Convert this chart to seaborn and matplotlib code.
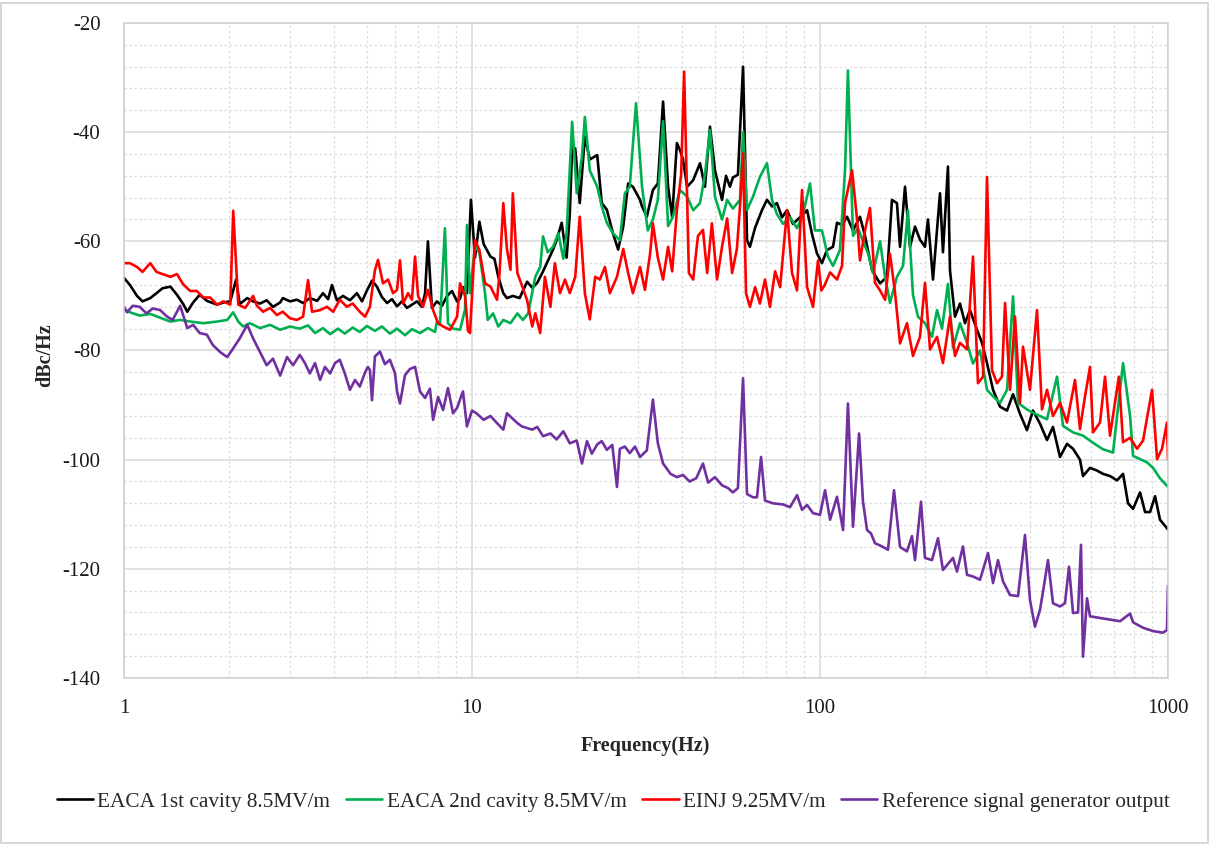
import matplotlib
matplotlib.use("Agg")
import matplotlib.pyplot as plt
from matplotlib.ticker import LogLocator, MultipleLocator, NullFormatter
from matplotlib.patches import Rectangle
import seaborn as sns

# ---- EACA 1st cavity 8.5MV/m ----
black_f = [1.00, 1.04, 1.09, 1.13, 1.19, 1.24, 1.29, 1.36, 1.42, 1.48, 1.52, 1.58, 1.65, 1.73, 1.85,
           1.93, 2.02, 2.10, 2.15, 2.26, 2.35, 2.46, 2.57, 2.68, 2.81, 2.86, 3.00, 3.14, 3.27, 3.42,
           3.59, 3.73, 3.86, 3.96, 4.09, 4.26, 4.46, 4.67, 4.83, 4.99, 5.16, 5.33, 5.51, 5.70, 5.89,
           6.09, 6.29, 6.50, 6.72, 6.95, 7.18, 7.33, 7.47, 7.67, 7.93, 8.20, 8.48, 8.76, 9.06, 9.24,
           9.42, 9.67, 9.93, 10.2, 10.5, 10.8, 11.3, 11.6, 11.9, 12.3, 12.6, 13.1, 13.7, 14.4, 14.9,
           15.4, 16.0, 16.4, 17.1, 17.5, 18.1, 18.7, 19.1, 19.4, 19.8, 20.4, 21.1, 21.8, 22.9, 23.6,
           24.4, 25.4, 26.3, 27.2, 28.1, 29.0, 30.4, 30.8, 31.8, 33.1, 34.2, 35.4, 36.6, 37.6, 38.8,
           39.6, 40.4, 41.5, 43.2, 45.2, 46.7, 48.3, 49.9, 52.3, 53.7, 55.1, 56.2, 58.1, 60.1, 61.7,
           62.9, 65.1, 68.1, 70.4, 72.8, 75.2, 77.8, 80.4, 83.6, 87.6, 91.8, 94.8, 98.0, 101.3, 104.7,
           109.0, 111.9, 115.7, 119.6, 124.4, 130.3, 134.7, 141.1, 148.8, 155.8, 161.0, 166.4, 169.8,
           175.5, 181.4, 187.5, 193.8, 200.3, 204.3, 211.2, 221.2, 225.6, 233.2, 236.3, 244.3, 252.5,
           261.0, 269.8, 282.6, 292.1, 301.9, 314.2, 329.1, 344.7, 358.7, 375.6, 393.3, 409.3, 428.7,
           449.1, 467.2, 489.4, 512.6, 533.4, 558.6, 569.8, 596.9, 625.2, 650.5, 681.4, 713.7, 742.7,
           767.7, 793.6, 831.2, 859.2, 888.0, 917.9, 948.4, 1000]
black_db = [-66.7, -68.0, -70.0, -71.0, -70.4, -69.5, -68.6, -68.3, -69.8, -71.5, -72.9, -71.2, -69.8, -70.9, -71.6,
            -71.2, -71.0, -67.0, -71.5, -70.4, -71.0, -71.4, -70.8, -72.0, -71.2, -70.4, -71.0, -70.7, -71.3, -70.4,
            -70.9, -69.5, -70.6, -68.0, -70.8, -70.0, -70.8, -69.5, -71.0, -69.0, -67.2, -68.3, -70.2, -71.3, -70.6,
            -71.9, -71.0, -72.2, -71.6, -71.0, -72.0, -69.5, -60.0, -72.2, -71.0, -71.8, -70.0, -69.1, -71.0, -70.5,
            -68.4, -69.5, -52.4, -63.0, -56.4, -60.5, -62.8, -63.2, -66.5, -69.5, -70.4, -70.0, -70.4, -67.4, -68.5,
            -67.6, -65.5, -64.0, -61.5, -59.8, -56.6, -63.0, -55.0, -42.7, -43.0, -53.0, -40.8, -45.0, -44.2, -53.0,
            -54.2, -58.5, -61.5, -57.3, -49.4, -50.0, -52.4, -53.6, -55.5, -50.6, -49.4, -34.4, -50.0, -55.5, -42.0,
            -43.3, -45.0, -50.0, -48.8, -45.7, -50.0, -39.0, -47.0, -52.4, -48.0, -50.0, -48.3, -47.8, -28.0, -59.8,
            -61.0, -57.5, -54.3, -52.4, -53.6, -53.0, -55.6, -54.3, -56.8, -55.6, -54.3, -58.6, -62.2, -64.0, -61.6,
            -61.0, -56.6, -57.0, -55.5, -58.0, -55.5, -59.0, -65.3, -67.7, -66.5, -52.4, -53.0, -61.0,
            -50.0, -61.0, -57.3, -59.7, -61.0, -56.0, -67.0, -51.2, -62.0, -46.3, -65.3, -73.8, -71.4,
            -75.0, -72.6, -76.2, -78.6, -82.3, -87.2, -90.3, -91.0, -88.0, -91.6, -94.6, -91.0, -93.4,
            -96.4, -94.0, -99.5, -97.1, -98.0, -100.0, -103.0, -101.5, -102.0, -102.6, -103.0, -103.8, -102.6,
            -108.0, -109.0, -106.0, -109.6, -109.6, -106.7, -111.0, -112.8]

# ---- EACA 2nd cavity 8.5MV/m ----
green_f = [1.00, 1.04, 1.11, 1.19, 1.27, 1.36, 1.45, 1.55, 1.69, 1.85, 1.98, 2.06, 2.13, 2.20, 2.30,
           2.46, 2.63, 2.81, 3.00, 3.20, 3.38, 3.54, 3.73, 3.91, 4.12, 4.31, 4.54, 4.76, 4.99, 5.26,
           5.51, 5.81, 6.09, 6.42, 6.72, 7.09, 7.47, 7.83, 7.93, 8.09, 8.36, 8.53, 8.82, 9.24, 9.55,
           9.67, 9.87, 10.2, 10.5, 10.9, 11.1, 11.5, 11.9, 12.3, 12.9, 13.5, 14.0, 14.5, 15.2, 15.7,
           16.0, 16.5, 17.1, 17.7, 18.3, 18.7, 19.4, 20.0, 20.7, 21.1, 21.8, 22.9, 23.6, 24.4, 25.4,
           26.6, 27.5, 28.4, 29.6, 30.8, 32.0, 33.1, 34.2, 35.4, 36.6, 37.8, 39.6, 41.5, 43.2, 45.2,
           46.7, 48.3, 49.9, 52.3, 54.1, 56.2, 58.9, 60.1, 61.7, 64.2, 67.2, 70.4, 72.8, 75.2, 78.3,
           82.0, 85.9, 89.4, 93.6, 96.7, 101.3, 105.4, 109.0, 114.1, 118.0, 120.3, 124.4, 128.6, 132.9,
           137.4, 142.0, 148.8, 153.8, 158.9, 166.4, 173.2, 179.0, 185.0, 191.2, 200.3, 209.8, 216.9,
           224.2, 233.2, 241.1, 252.5, 264.5, 275.2, 288.3, 301.9, 314.2, 329.1, 344.7, 358.7, 370.7,
           393.3, 409.3, 428.7, 449.1, 479.8, 499.2, 533.4, 569.8, 608.8, 650.5, 695.0, 742.7, 778.0,
           793.6, 831.2, 870.7, 905.8, 948.4, 1000]
green_db = [-72.5, -73.0, -73.6, -73.3, -74.0, -74.7, -74.4, -74.7, -75.0, -74.7, -74.4, -73.0, -74.7, -75.6, -75.0,
            -75.9, -75.3, -76.2, -75.6, -76.0, -75.4, -76.8, -75.9, -77.0, -76.0, -76.9, -75.8, -76.6, -75.5, -76.4,
            -75.6, -76.9, -76.0, -77.2, -76.1, -76.8, -75.9, -76.6, -74.7, -75.3, -57.6, -75.0, -76.0, -76.2, -72.5,
            -57.0, -69.5, -61.0, -62.0, -69.5, -74.4, -73.2, -75.6, -74.4, -75.0, -73.2, -74.4, -73.2, -66.5, -64.7,
            -59.1, -62.0, -61.0, -58.5, -63.2, -58.5, -38.1, -51.2, -44.5, -37.2, -47.0, -50.0, -53.6, -56.6, -58.5,
            -59.8, -51.2, -50.0, -34.7, -50.0, -58.0, -56.0, -52.4, -38.0, -57.2, -55.5, -50.6, -51.8, -54.3, -53.0,
            -47.8, -39.6, -51.8, -56.0, -52.4, -54.0, -52.4, -40.0, -54.3, -51.8, -48.2, -45.7, -52.4, -55.0, -56.8,
            -55.6, -57.6, -55.0, -49.4, -58.0, -58.0, -62.8, -64.5, -61.6, -47.0, -28.7, -59.0, -57.6, -60.0,
            -62.2, -65.8, -60.0, -66.5, -71.3, -66.5, -64.5, -54.3, -69.8, -73.8, -75.0, -77.5, -72.6,
            -76.0, -67.8, -79.5, -75.0, -78.6, -82.4, -80.0, -87.2, -88.4, -89.6, -87.2, -70.1, -89.6,
            -90.8, -91.4, -92.0, -92.6, -84.8, -93.8, -95.0, -95.6, -96.9, -98.1, -98.7, -82.3, -92.0,
            -99.3, -99.9, -100.5, -101.5, -103.4, -105.0]

# ---- EINJ 9.25MV/m ----
red_f = [1.00, 1.04, 1.09, 1.13, 1.19, 1.24, 1.29, 1.36, 1.42, 1.48, 1.55, 1.62, 1.69, 1.77, 1.85,
         1.93, 2.02, 2.06, 2.13, 2.23, 2.35, 2.41, 2.51, 2.63, 2.75, 2.86, 3.00, 3.14, 3.27, 3.38,
         3.47, 3.66, 3.83, 3.99, 4.17, 4.37, 4.54, 4.76, 4.93, 5.09, 5.26, 5.37, 5.55, 5.74, 5.93,
         6.09, 6.21, 6.34, 6.55, 6.72, 6.86, 7.00, 7.23, 7.47, 7.73, 7.99, 8.26, 8.65, 9.06, 9.24,
         9.55, 9.74, 9.87, 10.2, 10.5, 10.9, 11.3, 11.8, 12.0, 12.3, 12.6, 12.9, 13.1, 13.5, 13.9,
         14.4, 14.9, 15.2, 15.7, 16.2, 16.8, 17.3, 17.9, 18.5, 19.1, 19.8, 20.4, 21.1, 21.8, 22.6,
         23.3, 24.1, 24.9, 26.1, 27.2, 28.1, 29.0, 30.4, 31.4, 32.5, 33.1, 34.2, 35.4, 36.6, 37.6,
         38.8, 39.9, 40.7, 42.0, 43.2, 44.6, 46.1, 47.4, 48.9, 50.6, 52.3, 54.1, 55.9, 57.7, 58.9,
         60.1, 61.3, 62.9, 65.1, 67.2, 69.5, 71.8, 74.3, 76.8, 80.4, 83.1, 85.9, 88.8, 91.8, 95.5,
         98.7, 100.9, 103.0, 106.9, 111.9, 115.7, 118.0, 123.6, 127.8, 130.3, 134.7, 139.2, 143.9,
         148.8, 153.8, 158.9, 164.3, 169.8, 177.8, 185.0, 193.8, 200.3, 207.1, 216.9, 225.6, 236.3,
         244.3, 252.5, 264.5, 275.2, 284.4, 294.1, 301.9, 312.1, 322.6, 333.4, 340.2, 351.6, 363.4,
         375.6, 383.1, 401.2, 420.3, 434.4, 449.1, 467.2, 489.4, 512.6, 540.5, 558.6, 577.4, 596.9,
         608.8, 637.7, 659.2, 681.4, 722.4, 742.7, 778.0, 814.9, 847.9, 899.8, 930.2, 961.1, 993.4, 1000]
red_db = [-64.0, -64.0, -64.7, -65.6, -64.0, -65.6, -66.0, -66.5, -66.0, -67.9, -69.1, -69.1, -70.3, -70.3, -71.6,
          -71.0, -71.6, -54.4, -71.6, -72.2, -70.0, -71.8, -72.9, -72.2, -73.5, -72.9, -74.1, -74.4, -73.8, -67.1,
          -72.9, -72.6, -72.0, -72.9, -70.7, -72.0, -71.4, -72.9, -73.8, -72.0, -65.3, -63.4, -67.7, -67.0, -69.5,
          -68.9, -63.5, -71.4, -69.5, -70.7, -62.8, -70.0, -72.0, -68.9, -72.6, -75.0, -75.6, -76.2, -73.8, -67.7,
          -70.0, -76.4, -76.8, -59.8, -61.6, -67.7, -68.3, -70.7, -65.8, -53.0, -61.4, -65.2, -51.2, -65.8, -68.0,
          -70.8, -75.6, -73.2, -76.8, -66.5, -72.0, -64.0, -69.5, -67.0, -69.5, -66.5, -55.5, -69.5, -74.3, -66.5,
          -67.0, -64.7, -69.5, -66.5, -61.4, -65.8, -69.5, -64.7, -68.9, -62.2, -56.7, -63.0, -67.0, -61.0, -65.5,
          -54.3, -47.8, -28.9, -65.8, -67.0, -59.0, -57.9, -65.8, -56.7, -67.0, -61.0, -55.8, -65.8, -61.4, -53.6,
          -43.9, -69.5, -72.0, -68.4, -71.4, -67.0, -72.0, -65.5, -68.4, -54.3, -65.8, -69.0, -50.6, -68.4, -72.0,
          -63.5, -69.0, -68.1, -65.7, -67.0, -64.5, -53.0, -47.0, -56.0, -63.5, -58.0, -53.9, -67.6,
          -69.0, -70.7, -62.3, -69.4, -78.7, -75.0, -81.0, -77.5, -67.6, -79.8, -77.5, -82.3, -73.8,
          -81.0, -78.6, -79.8, -62.8, -86.0, -84.8, -48.2, -83.6, -86.0, -84.8, -71.3, -87.2, -73.8,
          -89.6, -79.3, -87.2, -72.6, -90.8, -87.2, -92.0, -89.6, -93.2, -85.4, -94.4, -88.4, -83.0,
          -95.0, -93.2, -84.8, -95.6, -84.8, -96.8, -96.0, -98.0, -96.5, -87.2, -99.9, -98.0, -93.2, -100.0]

# ---- Reference signal generator output ----
purple_f = [1.00, 1.02, 1.06, 1.11, 1.16, 1.21, 1.27, 1.33, 1.38, 1.45, 1.52, 1.58, 1.65, 1.73, 1.80,
            1.89, 1.98, 2.06, 2.15, 2.26, 2.35, 2.46, 2.57, 2.68, 2.81, 2.94, 3.06, 3.20, 3.31, 3.42,
            3.54, 3.66, 3.78, 3.91, 4.04, 4.17, 4.31, 4.46, 4.61, 4.76, 4.93, 5.02, 5.09, 5.16, 5.26,
            5.44, 5.62, 5.81, 6.01, 6.09, 6.21, 6.42, 6.63, 6.86, 7.09, 7.33, 7.57, 7.73, 7.99, 8.26,
            8.53, 8.82, 9.06, 9.42, 9.67, 10.0, 10.3, 10.8, 11.3, 11.8, 12.3, 12.6, 13.5, 13.9, 14.9,
            15.4, 16.0, 16.8, 17.5, 18.3, 19.1, 20.0, 20.7, 21.4, 22.1, 22.9, 23.6, 24.4, 25.3, 26.1,
            26.6, 27.5, 28.4, 29.4, 30.4, 31.8, 33.1, 34.2, 35.4, 37.2, 38.8, 40.4, 42.2, 44.1, 46.1,
            47.7, 49.9, 52.3, 54.4, 56.2, 58.1, 60.1, 61.7, 64.2, 65.9, 67.7, 69.5, 73.3, 78.3, 82.0,
            85.9, 88.8, 91.8, 95.5, 100.0, 103.4, 106.9, 111.9, 116.5, 120.3, 124.4, 129.5, 132.9,
            136.5, 140.1, 143.9, 150.8, 156.8, 163.2, 169.8, 177.8, 183.8, 187.5, 195.1, 200.3, 209.8,
            218.3, 225.6, 241.1, 247.5, 257.5, 264.5, 275.2, 288.3, 304.0, 314.2, 324.7, 335.7, 351.6,
            370.7, 388.2, 401.2, 414.7, 428.7, 437.3, 452.0, 467.2, 489.4, 505.8, 519.4, 533.4, 551.3,
            562.3, 569.8, 585.1, 596.9, 637.7, 681.4, 728.1, 778.0, 793.6, 847.9, 905.8, 967.4, 993.4, 1000]
purple_db = [-72.0, -73.0, -71.8, -72.0, -73.2, -72.3, -72.6, -73.8, -74.4, -71.8, -75.9, -75.3, -76.8, -77.1, -79.0,
             -80.3, -81.2, -79.6, -77.8, -75.3, -77.8, -80.3, -82.7, -81.5, -84.6, -81.2, -82.7, -80.8, -82.3, -84.2,
             -82.3, -85.4, -83.0, -84.2, -82.3, -81.7, -84.2, -87.2, -85.4, -86.6, -84.0, -83.0, -83.6, -89.1, -81.1,
             -80.2, -82.5, -81.7, -84.2, -87.5, -89.7, -84.5, -83.4, -83.0, -87.5, -88.7, -87.0, -92.7, -88.5, -90.9,
             -86.9, -91.5, -90.5, -87.5, -93.9, -91.0, -91.5, -92.7, -92.0, -93.3, -94.5, -91.5, -93.3, -93.9, -94.5,
             -94.0, -95.7, -95.2, -96.3, -94.8, -97.0, -96.5, -100.7, -96.6, -98.9, -97.2, -96.6, -98.2, -97.3, -105.0,
             -98.0, -97.6, -98.8, -97.6, -99.5, -98.3, -89.0, -97.0, -100.7, -102.6, -103.2, -102.8, -104.0, -103.4, -100.7,
             -104.2, -103.2, -104.7, -105.2, -106.0, -105.2, -85.1, -106.3, -106.9, -106.9, -99.5, -107.5, -108.0, -108.2, -108.7,
             -106.5, -109.2, -108.3, -109.8, -110.1, -105.6, -111.0, -106.8, -112.9, -89.7, -112.3, -95.2, -107.7,
             -112.9, -113.5, -115.3, -115.9, -116.5, -105.6, -116.0, -116.8, -114.0, -118.4, -107.7, -118.0, -118.4,
             -114.4, -120.2, -118.0, -120.5, -115.9, -121.1, -121.4, -122.0, -117.1, -122.6, -118.4, -122.3, -124.8,
             -125.0, -113.8, -125.7, -130.6, -127.5, -124.2, -118.4, -126.3, -126.9, -126.3, -119.6, -128.1, -128.0,
             -115.6, -136.1, -125.4, -128.7, -129.0, -129.3, -129.6, -128.2, -129.8, -130.8, -131.4, -131.7, -131.2, -123.1]

series_labels = ["EACA 1st cavity 8.5MV/m", "EACA 2nd cavity 8.5MV/m",
                 "EINJ 9.25MV/m", "Reference signal generator output"]
series_colors = ["#000000", "#00b050", "#ff0000", "#7030a0"]
x_ticks = [1, 10, 100, 1000]
y_ticks = [-140, -120, -100, -80, -60, -40, -20]

sns.set_theme(style="white")
plt.rcParams["font.family"] = ["Liberation Serif", "DejaVu Serif"]

fig = plt.figure(figsize=(12.12, 8.44), dpi=100)
ax = fig.add_axes([124 / 1212, 1 - 678 / 844, (1168 - 124) / 1212, (678 - 23) / 844])

data = [(black_f, black_db), (green_f, green_db), (red_f, red_db), (purple_f, purple_db)]
for (f, v), lab, col in zip(data, series_labels, series_colors):
    sns.lineplot(x=f, y=v, ax=ax, color=col, linewidth=1.9, label=lab,
                 estimator=None, sort=False)

ax.set_xscale("log")
ax.set_xlim(1, 1000)
ax.set_ylim(-140, -20)
ax.set_xticks(x_ticks)
ax.set_xticklabels([str(t) for t in x_ticks])
ax.xaxis.set_minor_locator(LogLocator(base=10, subs=range(2, 10)))
ax.xaxis.set_minor_formatter(NullFormatter())
ax.set_yticks(y_ticks)
ax.set_yticklabels([str(t) for t in y_ticks])
ax.yaxis.set_minor_locator(MultipleLocator(4))

ax.grid(which="major", color="#d9d9d9", linewidth=1.1, linestyle="-")
ax.grid(which="minor", color="#dcdcdc", linewidth=0.9, linestyle=(0, (2, 2)))
ax.set_axisbelow(True)
for s in ax.spines.values():
    s.set_color("#cfcfcf")
    s.set_linewidth(1.1)

ax.tick_params(axis="both", which="both", length=0)
ax.tick_params(axis="x", labelsize=15, pad=15, labelcolor="#1a1a1a")
ax.tick_params(axis="y", labelsize=15, pad=17, labelcolor="#1a1a1a")

ax.set_xlabel("Frequency(Hz)", fontsize=14.5, fontweight="bold")
ax.set_ylabel("dBc/Hz", fontsize=14.5, fontweight="bold")
ax.xaxis.set_label_coords(0.499, -0.088)
ax.yaxis.set_label_coords(-0.066, 0.493)

handles, labels = ax.get_legend_handles_labels()
ax.legend_.remove()
fig.legend(handles, labels, loc="center", bbox_to_anchor=(0.506, 0.05), ncol=4,
           frameon=False, fontsize=15.3, handlelength=1.7, handletextpad=0.2,
           columnspacing=0.75)

fig.patches.append(Rectangle((0.001, 0.001), 0.996, 0.996, transform=fig.transFigure,
                             fill=False, edgecolor="#d0d0d0", linewidth=1.2))

fig.savefig("out.png", dpi=100, facecolor="white")
